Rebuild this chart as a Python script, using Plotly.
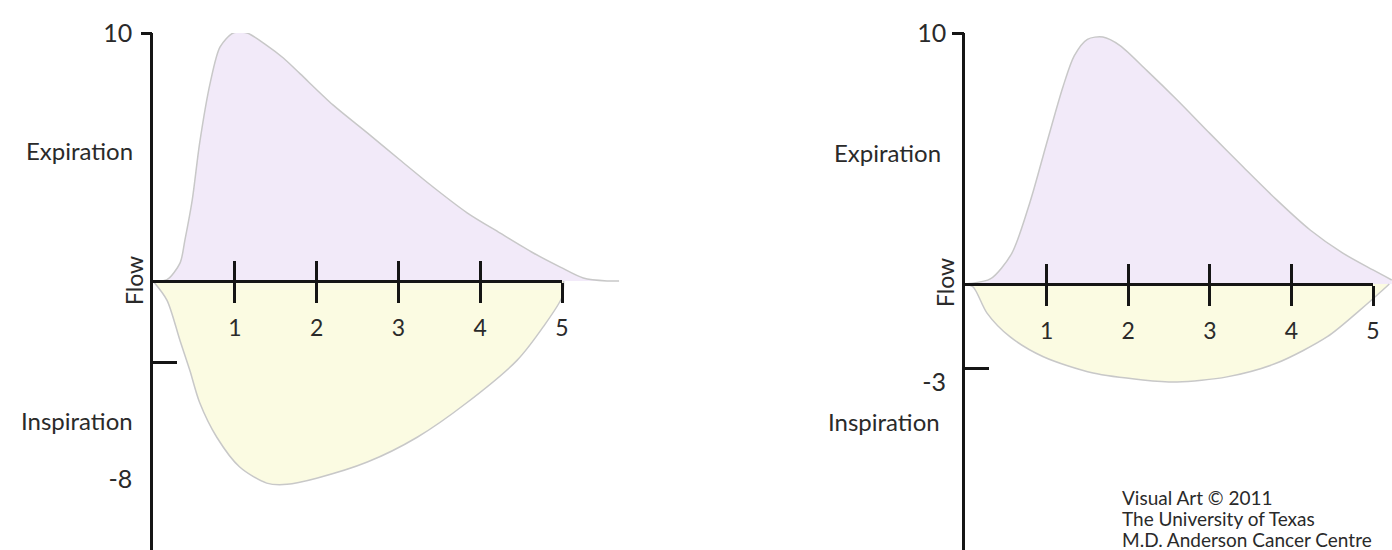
import plotly.graph_objects as go

# ---------------- data ----------------
VOLUME_TICKS = [1, 2, 3, 4, 5]
VOLUME_TICK_TEXT = ["1", "2", "3", "4", "5"]

# Left loop (normal)
LEFT_EXP_VOL = [0, 0.17, 0.33, 0.39, 0.48, 0.57, 0.70, 0.82, 0.98, 1.15, 1.39, 1.59, 1.80, 2.20,
                2.62, 3.02, 3.42, 3.84, 4.24, 4.65, 4.98, 5.26, 5.55, 5.70]
LEFT_EXP_FLOW = [0, 0.05, 0.72, 1.65, 3.27, 5.56, 8.0, 9.44, 10.0, 10.0, 9.5, 9.0, 8.35, 7.1,
                 5.97, 4.88, 3.8, 2.75, 1.94, 1.13, 0.56, 0.12, 0.0, 0.0]
LEFT_INS_VOL = [0, 0.17, 0.33, 0.45, 0.57, 0.78, 1.06, 1.39, 1.64, 2.0, 2.62, 3.23, 3.84,
                4.45, 4.77, 5.0, 5.02]
LEFT_INS_FLOW = [0, -0.77, -2.4, -3.6, -4.9, -6.3, -7.5, -8.15, -8.2, -7.95, -7.3, -6.3,
                 -4.9, -3.2, -1.85, -0.65, 0]
LEFT_Y_TICKS = [10, -8]
LEFT_Y_TICK_TEXT = ["10", "-8"]
LEFT_MARK_TICKS = [-3.3]

# Right loop
RIGHT_EXP_VOL = [0, 0.06, 0.31, 0.57, 0.80, 1.0, 1.20, 1.34, 1.50, 1.69, 1.90, 2.23, 2.60,
                 3.00, 3.41, 3.82, 4.23, 4.63, 5.00, 5.23]
RIGHT_EXP_FLOW = [0, 0.02, 0.2, 1.2, 3.3, 5.6, 7.85, 9.1, 9.75, 9.84, 9.5, 8.5, 7.33,
                  6.0, 4.66, 3.35, 2.15, 1.23, 0.56, 0.16]
RIGHT_INS_VOL = [0, 0.1, 0.27, 0.55, 0.96, 1.57, 2.18, 2.6, 3.21, 3.82, 4.44, 4.84, 5.12, 5.2]
RIGHT_INS_FLOW = [0, -0.12, -1.16, -2.1, -2.9, -3.55, -3.82, -3.9, -3.7, -3.15, -2.1, -1.04,
                  -0.24, 0]
RIGHT_Y_TICKS = [10]
RIGHT_Y_TICK_TEXT = ["10"]
RIGHT_NEG_TICKS = [-3.35]
RIGHT_NEG_TICK_TEXT = ["-3"]

CREDIT_LINES = ["Visual Art © 2011", "The University of Texas", "M.D. Anderson Cancer Centre"]

# ---------------- styling / layout ----------------
W, H = 1392, 550
FONT = "Lato"
TXT = "#2a2a2a"
AX = "#151515"
EXP_FILL = "#f2eaf9"
INS_FILL = "#fbfbe2"
OUTLINE = "#c8c8c8"
LW = 2.5


def geom(x0_px, unit_x, xmax, y0_px, ytop_px, ymax=10):
    unit_y = (y0_px - ytop_px) / ymax
    ymin = -(H - y0_px) / unit_y
    return dict(
        xdom=[x0_px / W, min(1.0, (x0_px + xmax * unit_x) / W)],
        xrange=[0, xmax],
        tickdom=[x0_px / W, (x0_px + 5 * unit_x) / W],
        ydom=[0, 1 - ytop_px / H],
        yrange=[ymin, ymax],
        zero=(H - y0_px) / H,
    )


GL = geom(153, 81.8, 5.70, 281, 33)
GR = geom(965, 81.6, (W - 965) / 81.6, 284, 33)

fig = go.Figure()


def area(x, y, fill, xa, ya):
    fig.add_trace(go.Scatter(
        x=x, y=y, mode="lines", line=dict(color=OUTLINE, width=1.5, shape="spline", smoothing=0.8),
        fill="tozeroy", fillcolor=fill, xaxis=xa, yaxis=ya, showlegend=False, hoverinfo="skip"))


area(LEFT_EXP_VOL, LEFT_EXP_FLOW, EXP_FILL, "x", "y")
area(LEFT_INS_VOL, LEFT_INS_FLOW, INS_FILL, "x", "y")
area(RIGHT_EXP_VOL, RIGHT_EXP_FLOW, EXP_FILL, "x2", "y2")
area(RIGHT_INS_VOL, RIGHT_INS_FLOW, INS_FILL, "x2", "y2")

# empty traces so that helper axes get drawn
for xa, ya in [("x3", "y"), ("x5", "y"), ("x", "y3"), ("x", "y5"),
               ("x4", "y2"), ("x6", "y2"), ("x2", "y4"), ("x2", "y6"), ("x2", "y8")]:
    fig.add_trace(go.Scatter(x=[None], y=[None], xaxis=xa, yaxis=ya, showlegend=False,
                             hoverinfo="skip", mode="lines"))

base = dict(showgrid=False, zeroline=False, fixedrange=True, automargin=False)


def data_x(g):
    return dict(base, domain=g["xdom"], range=g["xrange"], visible=False)


def main_y(g, anchor, tv, tt, standoff):
    return dict(base, domain=g["ydom"], range=g["yrange"], anchor=anchor, showline=True,
                linecolor=AX, linewidth=LW, tickmode="array", tickvals=tv, ticktext=tt,
                ticks="", ticklabelstandoff=standoff,
                tickfont=dict(family=FONT, size=25, color=TXT))


def over_y(g, anchor, over, tv, ticks, tlen, minor=None, labels=None, shift=0):
    d = dict(base, range=g["yrange"], anchor=anchor, overlaying=over, side="left",
             showline=False, tickmode="array", tickvals=tv, ticks=ticks, ticklen=tlen,
             tickwidth=LW, tickcolor=AX, showticklabels=labels is not None)
    if labels is not None:
        d.update(ticktext=labels, ticklabelstandoff=18, ticklabelshift=shift,
                 tickfont=dict(family=FONT, size=25, color=TXT))
    if minor is not None:
        d["minor"] = dict(tickmode="array", tickvals=minor, ticks="inside", ticklen=24,
                          tickwidth=LW, tickcolor=AX)
    return d


def tick_x(g, over=None):
    d = dict(base, range=[0, 5], anchor="free", position=g["zero"], tickmode="array",
             tickvals=VOLUME_TICKS, ticklen=20, tickwidth=LW, tickcolor=AX)
    if over is None:
        d.update(domain=g["tickdom"], showline=True, linecolor=AX, linewidth=LW,
                 ticks="outside", ticktext=VOLUME_TICK_TEXT, ticklabelstandoff=6,
                 tickfont=dict(family=FONT, size=23, color=TXT))
    else:
        d.update(overlaying=over, showline=False, ticks="inside", showticklabels=False)
    return d


fig.update_layout(
    width=W, height=H, margin=dict(l=0, r=0, t=0, b=0, pad=0, autoexpand=False),
    paper_bgcolor="white", plot_bgcolor="rgba(0,0,0,0)",
    xaxis=data_x(GL), yaxis=main_y(GL, "x", LEFT_Y_TICKS, LEFT_Y_TICK_TEXT, 13),
    xaxis2=data_x(GR), yaxis2=main_y(GR, "x2", RIGHT_Y_TICKS, RIGHT_Y_TICK_TEXT, 11),
    xaxis3=tick_x(GL), xaxis5=tick_x(GL, over="x3"),
    xaxis4=tick_x(GR), xaxis6=tick_x(GR, over="x4"),
    yaxis3=over_y(GL, "x", "y", [10], "outside", 11),
    yaxis5=over_y(GL, "x", "y", [10], "inside", 11, minor=LEFT_MARK_TICKS),
    yaxis4=over_y(GR, "x2", "y2", [10], "outside", 12),
    yaxis6=over_y(GR, "x2", "y2", [10], "inside", 12, minor=RIGHT_NEG_TICKS),
    yaxis8=over_y(GR, "x2", "y2", RIGHT_NEG_TICKS, "", 0, labels=RIGHT_NEG_TICK_TEXT, shift=14),
)


def ann(text, xpx, ypx, size=24, xanchor="right", angle=0, yanchor="middle"):
    fig.add_annotation(text=text, x=xpx / W, y=1 - ypx / H, xref="paper", yref="paper",
                       xanchor=xanchor, yanchor=yanchor, showarrow=False, textangle=angle,
                       align="left", font=dict(family=FONT, size=size, color=TXT))


ann("Expiration", 135, 150)
ann("Inspiration", 135, 420)
ann("Expiration", 943, 152)
ann("Inspiration", 942, 422)
ann("Flow", 134, 281, size=23, xanchor="center", angle=-90)
ann("Flow", 945, 283, size=23, xanchor="center", angle=-90)
for i, line in enumerate(CREDIT_LINES):
    ann(line, 1120, 497 + 21 * i, size=19, xanchor="left")

# remove the default page margin so the 1392x550 figure fills the window exactly
fig.write_html("out.html", config={"displayModeBar": False},
               post_script="document.body.style.margin='0';")
